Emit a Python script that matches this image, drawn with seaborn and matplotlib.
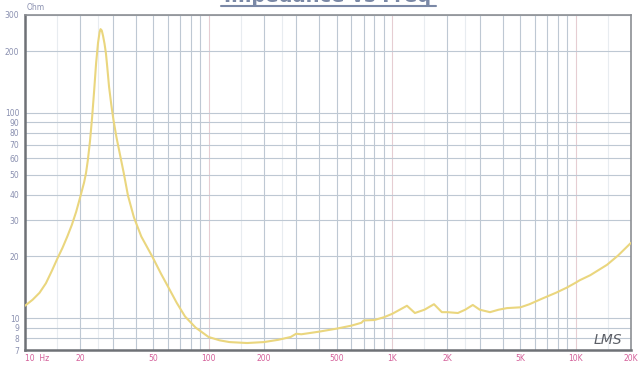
"""Impedance vs Freq — воспроизведение графика LMS."""

import matplotlib
matplotlib.use("Agg")
import matplotlib.pyplot as plt
import matplotlib.lines as mlines
import seaborn as sns
import pandas as pd

sns.set_style("white")
plt.rcParams.update({
    "font.family": ["DejaVu Sans"],
    "figure.dpi": 100,
})

# ── данные ──────────────────────────────────────────────────────────
freq_hz = [
    10, 11, 12, 13, 14, 15, 16, 17, 18, 19, 20, 21, 21.5, 22, 22.6, 23.2,
    23.8, 24.4, 25.0, 25.5, 25.8, 26.2, 26.6, 27.1, 27.6, 28.1, 28.7, 29.5,
    30.3, 31.5, 33, 34.5, 36.4, 39.2, 43, 49.6, 55, 60, 67, 74.4, 85, 100,
    115, 130, 162, 200, 240, 280, 300, 320, 400, 500, 600, 680, 700, 800,
    900, 1000, 1100, 1204, 1330, 1500, 1690, 1865, 2000, 2280, 2500, 2750,
    3000, 3410, 3800, 4220, 5000, 5600, 6620, 7800, 8950, 10000, 10500,
    12000, 14800, 17000, 20000,
]
impedance_ohm = [
    11.5, 12.3, 13.3, 14.8, 17, 19.5, 22, 25, 28.5, 33, 39, 46, 51, 59, 73,
    95, 128, 175, 220, 248, 256, 252, 238, 218, 195, 165, 134, 110,
    93, 76, 62, 51, 39.5, 31, 25, 19.8, 16.5, 14.3, 11.9, 10.2, 9.0, 8.1,
    7.8, 7.65, 7.57, 7.65, 7.85, 8.1, 8.4, 8.35, 8.6, 8.9, 9.2, 9.5, 9.75,
    9.8, 10.1, 10.5, 11.0, 11.5, 10.6, 11.0, 11.7, 10.7, 10.7, 10.6, 11.0,
    11.6, 11.0, 10.7, 11.0, 11.2, 11.3, 11.7, 12.5, 13.3, 14.1, 14.9, 15.3,
    16.2, 18.2, 20.2, 23.3,
]

x_ticks = [10, 20, 50, 100, 200, 500, 1000, 2000, 5000, 10000, 20000]
x_labels = ["10  Hz", "20", "50", "100", "200", "500", "1K", "2K", "5K", "10K", "20K"]
y_ticks = [7, 8, 9, 10, 20, 30, 40, 50, 60, 70, 80, 90, 100, 200, 300]
y_labels = [str(v) for v in y_ticks]

df = pd.DataFrame({"f": freq_hz, "z": impedance_ohm})

W, H = 643, 366
fig = plt.figure(figsize=(W / 100, H / 100))
ax = fig.add_axes([25 / W, 16 / H, 606 / W, 335 / H])

# сетка
grid_x = [m * 10 ** d for d in range(1, 5) for m in range(1, 10) if m * 10 ** d <= 20000]
for gx in grid_x:
    col = "#e6cdd2" if gx in (100, 1000, 10000) else "#bec8d3"
    ax.axvline(gx, color=col, lw=0.8, zorder=0)
for gx in [15, 25, 150, 250, 1500, 2500, 15000]:
    ax.axvline(gx, color="#e8ecf0", lw=0.8, zorder=0)
for gy in y_ticks:
    ax.axhline(gy, color="#bec8d3", lw=0.8, zorder=0)

sns.lineplot(data=df, x="f", y="z", ax=ax, color="#ead67e", lw=1.5, zorder=3)

ax.set_xscale("log")
ax.set_yscale("log")
ax.set_xlim(10, 20000)
ax.set_ylim(7, 300)
ax.set_xlabel("")
ax.set_ylabel("")

ax.set_xticks(x_ticks)
ax.set_xticklabels(x_labels)
ax.set_xticks([], minor=True)
ax.set_yticks(y_ticks)
ax.set_yticklabels(y_labels)
ax.set_yticks([], minor=True)
ax.tick_params(axis="x", length=0, pad=3, labelsize=5.5, labelcolor="#d4609a")
ax.tick_params(axis="y", length=3, width=0.8, color="#9aa3b5", pad=1,
               labelsize=5.5, labelcolor="#8a90b0")
ax.get_xticklabels()[0].set_ha("left")

for side in ["top", "right"]:
    ax.spines[side].set_color("#8c8f94")
    ax.spines[side].set_linewidth(1.2)
for side in ["left", "bottom"]:
    ax.spines[side].set_color("#6e7176")
    ax.spines[side].set_linewidth(1.8)

fig.text(27 / W, 1 - 7 / H, "Ohm", fontsize=5.5, color="#8a90b0",
         ha="left", va="center")
# заголовок в оригинале обрезан сверху
fig.text(328 / W, 1 - 2.5 / H, "Impedance vs Freq", fontsize=14,
         fontweight="bold", color="#7a88a6", ha="center", va="baseline")
fig.add_artist(mlines.Line2D([221 / W, 436 / W], [1 - 5.5 / H, 1 - 5.5 / H],
                             color="#7a88a6", lw=1.5, transform=fig.transFigure))
fig.text(608 / W, 1 - 340 / H, "LMS", fontsize=10, style="italic",
         color="#5c5f66", ha="center", va="center")

fig.savefig("out.png", dpi=100)
plt.close(fig)
